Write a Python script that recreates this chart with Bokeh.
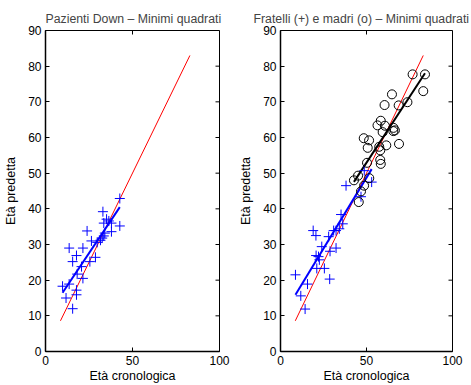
import math
from bokeh.plotting import figure
from bokeh.layouts import row
from bokeh.models import Range1d, FixedTicker
from bokeh.embed import file_html
from bokeh.resources import INLINE

# ---- data ----
down_x = [9.8, 13.6, 11.8, 13.6, 15.6, 17.8, 15.6, 17.8, 17.8, 18.2, 21.5, 21.5, 20.7, 23.9, 25.5,
          26.4, 28.7, 29.7, 31.6, 32.6, 33.0, 33.5, 35.1, 36.4, 37.9, 37.9, 33.5, 42.7, 42.7, 34.1]
down_y = [18.3, 18.9, 15.0, 29.0, 25.2, 26.9, 12.0, 17.2, 15.9, 21.7, 29.0, 20.5, 23.8, 33.8, 25.2,
          31.0, 26.4, 30.6, 31.2, 31.8, 39.2, 36.0, 37.1, 36.6, 36.0, 33.6, 32.4, 42.9, 35.2, 33.2]

sib_x = [8.7, 11.8, 14.3, 15.7, 19.0, 20.6, 20.7, 22.1, 21.1, 22.6, 24.0, 25.5, 28.6, 28.8, 28.0,
         30.9, 32.3, 32.3, 34.2, 35.2, 36.2, 38.1, 46.8, 48.7, 53.0]
sib_y = [21.5, 15.6, 11.9, 18.9, 33.9, 32.5, 26.9, 26.6, 23.3, 25.7, 29.4, 23.3, 20.3, 28.1, 32.2,
         33.9, 29.0, 33.9, 34.4, 38.4, 35.8, 46.5, 43.4, 50.7, 47.5]

mom_x = [42.7, 45.1, 45.5, 46.8, 48.6, 48.4, 50.7, 51.5, 50.3, 51.6, 56.4, 57.4, 58.3, 58.0, 58.3,
         58.0, 59.4, 60.5, 60.7, 61.5, 64.8, 65.7, 65.6, 66.5, 68.7, 68.9, 73.8, 76.8, 83.0, 84.0]
mom_y = [48.0, 49.3, 41.9, 44.9, 46.5, 59.8, 57.1, 59.2, 52.9, 48.6, 63.4, 57.4, 64.7, 56.4, 52.6,
         53.7, 61.5, 69.1, 63.3, 57.8, 72.1, 62.7, 61.8, 62.0, 69.0, 58.2, 69.9, 77.7, 73.0, 77.7]

# least-squares fits (intercept, slope)
down_fit = [9.3, 0.73]
sib_fit = [9.0, 0.795]
mom_fit = [16.1, 0.737]

# identity line range (all ages)
ident_range = [8.6, 83.0]

x_ticks = [0, 50, 100]
y_ticks = [0, 10, 20, 30, 40, 50, 60, 70, 80, 90]
x_lim = [0, 100]
y_lim = [0, 90]

titles = ["Pazienti Down \u2013 Minimi quadrati", "Fratelli (+) e madri (o) \u2013 Minimi quadrati"]
xlabel = "Et\u00e0 cronologica"
ylabel = "Et\u00e0 predetta"

FONT = "Liberation Sans"


def make_fig(title, left, right, fw, title_offset):
    p = figure(frame_width=fw, frame_height=321,
               min_border_left=left, min_border_right=right, min_border_top=30, min_border_bottom=34,
               x_range=Range1d(*x_lim), y_range=Range1d(*y_lim),
               output_backend="svg", toolbar_location=None, title=title)
    p.title.text_font = FONT
    p.title.text_font_size = "12.3px"
    p.title.text_font_style = "normal"
    p.title.align = "left"
    p.title.offset = title_offset
    p.title.standoff = 9
    p.xgrid.visible = False
    p.ygrid.visible = False
    p.outline_line_color = "black"
    p.outline_line_alpha = 1
    p.background_fill_color = "white"
    p.border_fill_color = "white"
    p.xaxis.ticker = FixedTicker(ticks=x_ticks)
    p.yaxis.ticker = FixedTicker(ticks=y_ticks)
    p.xaxis.axis_label = xlabel
    p.yaxis.axis_label = ylabel
    for ax in (p.xaxis[0], p.yaxis[0]):
        ax.major_tick_in = 4
        ax.major_tick_out = 0
        ax.minor_tick_line_color = None
        ax.axis_line_color = "black"
        ax.axis_line_width = 1.5
        ax.major_tick_line_color = "black"
        ax.major_label_text_font = FONT
        ax.major_label_text_font_size = "12px"
        ax.major_label_text_color = "black"
        ax.axis_label_text_font = FONT
        ax.axis_label_text_font_size = "12.5px"
        ax.axis_label_text_font_style = "normal"
        ax.axis_label_text_color = "black"
        ax.major_label_standoff = 4
    p.xaxis.axis_label_standoff = 1
    p.yaxis.axis_label_standoff = 7
    # mirrored tick marks on the right and top edges of the box
    p.ray(x=[x_lim[1]] * len(y_ticks), y=y_ticks, length=4, length_units="screen",
          angle=math.pi, line_color="black", line_width=1)
    p.ray(x=x_ticks, y=[y_lim[1]] * len(x_ticks), length=4, length_units="screen",
          angle=-math.pi / 2, line_color="black", line_width=1)
    return p


def fit_line(x, coef):
    xs = [min(x), max(x)]
    ys = [coef[0] + coef[1] * v for v in xs]
    return xs, ys


p1 = make_fig(titles[0], 45, 17, 174, 0)
p1.line(ident_range, ident_range, line_color="red", line_width=1)
xs, ys = fit_line(down_x, down_fit)
p1.line(xs, ys, line_color="blue", line_width=2)
p1.scatter(down_x, down_y, marker="cross", size=10, line_color="blue", line_width=1)

p2 = make_fig(titles[1], 40, 23, 172, -27)
p2.line(ident_range, ident_range, line_color="red", line_width=1)
xs, ys = fit_line(sib_x, sib_fit)
p2.line(xs, ys, line_color="blue", line_width=2)
xs, ys = fit_line(mom_x, mom_fit)
p2.line(xs, ys, line_color="black", line_width=2)
p2.scatter(sib_x, sib_y, marker="cross", size=10, line_color="blue", line_width=1)
p2.scatter(mom_x, mom_y, marker="circle", size=9, line_color="black", fill_color=None, line_width=1)

layout = row(p1, p2, spacing=0)
open("out.html", "w").write(file_html(layout, INLINE))
